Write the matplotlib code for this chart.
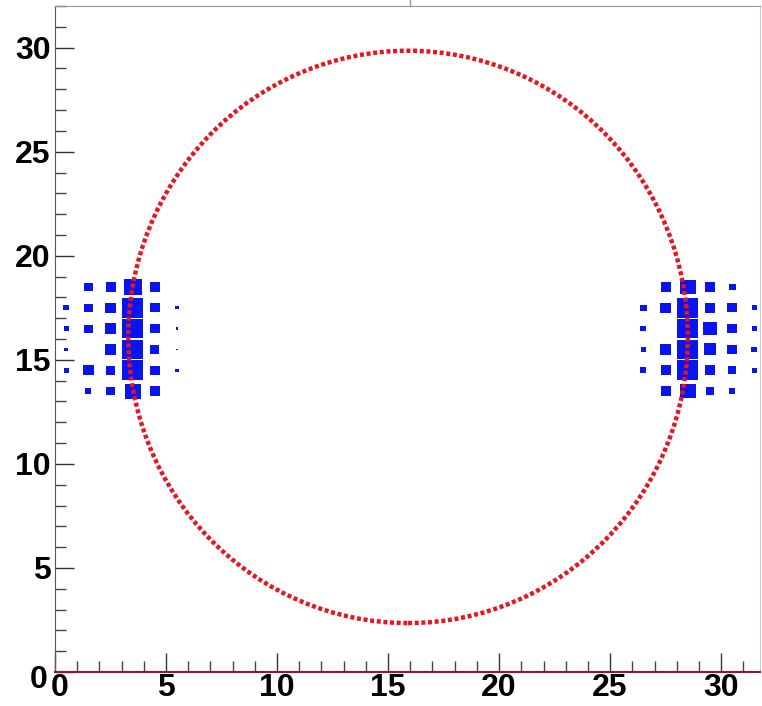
import matplotlib
matplotlib.use("Agg")
import matplotlib.pyplot as plt
import matplotlib.transforms as mtransforms
from matplotlib.patches import Rectangle, Ellipse
from matplotlib.ticker import MultipleLocator

# bin centres (1 unit bins)
row_y = [18.5, 17.5, 16.5, 15.5, 14.5, 13.5]
left_x = [0.5, 1.5, 2.5, 3.5, 4.5, 5.5]
right_x = [26.5, 27.5, 28.5, 29.5, 30.5, 31.5]

# box side relative to bin width, rows from top to bottom
left_vals = [
    [0.00, 0.38, 0.45, 0.80, 0.48, 0.00],
    [0.25, 0.38, 0.50, 0.95, 0.42, 0.15],
    [0.22, 0.38, 0.50, 0.95, 0.42, 0.12],
    [0.18, 0.00, 0.52, 0.95, 0.40, 0.08],
    [0.22, 0.48, 0.42, 0.95, 0.44, 0.15],
    [0.00, 0.28, 0.38, 0.72, 0.44, 0.00],
]
right_vals = [
    [0.00, 0.44, 0.70, 0.44, 0.30, 0.00],
    [0.30, 0.48, 0.95, 0.48, 0.45, 0.24],
    [0.27, 0.00, 0.95, 0.60, 0.44, 0.24],
    [0.22, 0.50, 0.95, 0.58, 0.44, 0.27],
    [0.27, 0.46, 0.95, 0.46, 0.36, 0.22],
    [0.00, 0.46, 0.70, 0.34, 0.28, 0.00],
]

# ring
ring_center = (15.9, 16.1)
ring_width = 25.2
ring_height = 27.5

x_ticks = [0, 5, 10, 15, 20, 25, 30]
y_ticks = [0, 5, 10, 15, 20, 25, 30]

fig = plt.figure(figsize=(7.62, 7.06), dpi=100)
ax = fig.add_axes([55 / 762, 34 / 706, 705 / 762, 666 / 706])
ax.set_xlim(0, 31.75)
ax.set_ylim(0, 32)


def draw_boxes(xs, vals):
    for r, y in enumerate(row_y):
        for c, x in enumerate(xs):
            s = vals[r][c]
            if s <= 0:
                continue
            ax.add_patch(Rectangle((x - s / 2, y - s / 2), s, s,
                                   facecolor="#0a14f0", edgecolor="none"))


draw_boxes(left_x, left_vals)
draw_boxes(right_x, right_vals)

ax.add_patch(Ellipse(ring_center, ring_width, ring_height, fill=False,
                     edgecolor="#e8141e", linewidth=3.2,
                     linestyle=(0, (0.9, 0.6)), zorder=3))

ax.set_xticks(x_ticks)
ax.set_yticks(y_ticks)
ax.xaxis.set_minor_locator(MultipleLocator(1))
ax.yaxis.set_minor_locator(MultipleLocator(1))
ax.tick_params(which="major", direction="in", length=14, width=1,
               color="#333333", labelsize=23)
ax.tick_params(axis="x", which="major", pad=1)
ax.tick_params(axis="y", which="major", pad=3)
ax.tick_params(which="minor", direction="in", length=8, width=1,
               color="#444444")
for lab in ax.get_xticklabels() + ax.get_yticklabels():
    lab.set_fontfamily("Liberation Sans")
    lab.set_fontweight("bold")

# the two zeros at the origin sit a little apart, as in ROOT
xl0 = ax.get_xticklabels()[0]
xl0.set_transform(xl0.get_transform() +
                  mtransforms.ScaledTranslation(5 / 100, 0, fig.dpi_scale_trans))
yl0 = ax.get_yticklabels()[0]
yl0.set_transform(yl0.get_transform() +
                  mtransforms.ScaledTranslation(-3 / 100, -5 / 100, fig.dpi_scale_trans))

ax.spines["left"].set_color("#555555")
ax.spines["top"].set_color("#999999")
ax.spines["right"].set_color("#cccccc")
ax.spines["bottom"].set_color("#8b1a2b")
ax.spines["bottom"].set_linewidth(1.5)

# small mark above the frame
ax.plot([16, 16], [32, 32.4], color="#999999", lw=1, clip_on=False)

fig.savefig("out.png", dpi=100)
